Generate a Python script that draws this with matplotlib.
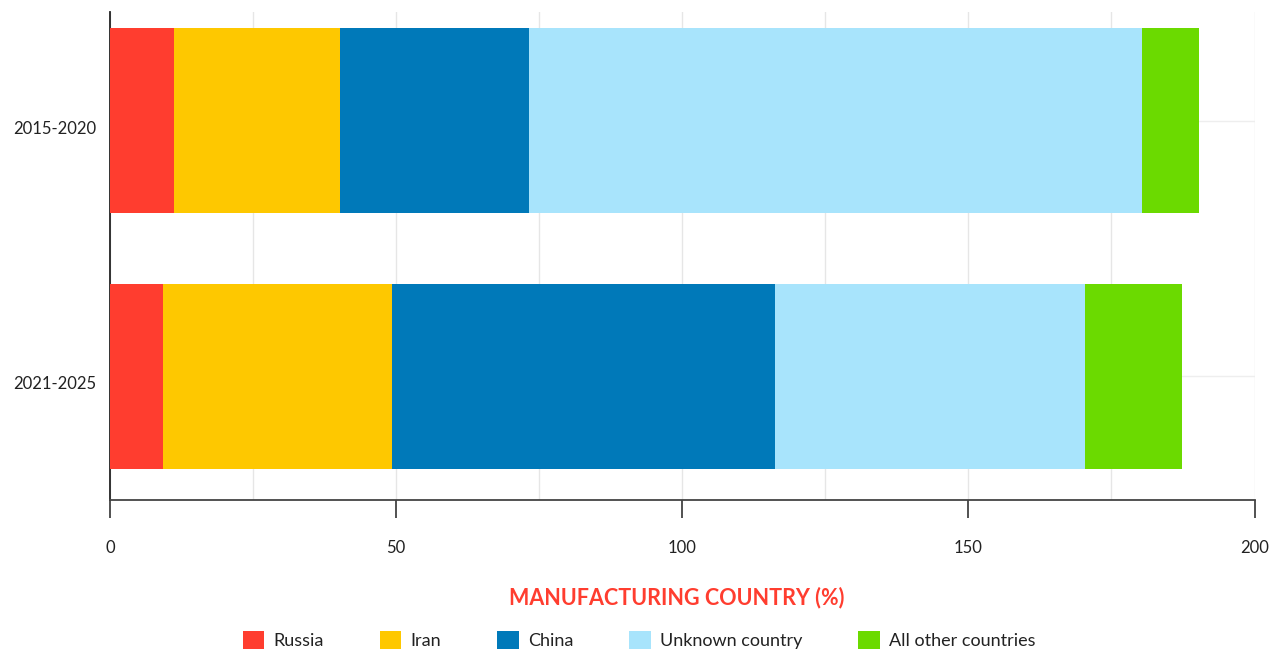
import matplotlib.pyplot as plt
import numpy as np
from matplotlib.patches import Patch

plt.rcParams['font.family'] = ['Lato', 'DejaVu Sans']

periods = ['2015-2020', '2021-2025']
countries = ['Russia', 'Iran', 'China', 'Unknown country', 'All other countries']
russia = [11.2, 9.3]
iran = [29.0, 40.0]
china = [33.0, 66.9]
unknown = [107.1, 54.2]
others = [10.0, 17.0]
colors = ['#ff3d2f', '#fec800', '#0079b9', '#a8e4fc', '#6bda00']

series = [russia, iran, china, unknown, others]

fig = plt.figure(figsize=(12.82, 6.54), dpi=100)
ax = fig.add_axes([110 / 1282, 1 - 500 / 654, (1254.5 - 110) / 1282, 488 / 654])

y = np.arange(len(periods))
left = np.zeros(len(periods))
for vals, col in zip(series, colors):
    ax.barh(y, vals, left=left, height=0.724, color=col, zorder=3)
    left += np.array(vals)

ax.set_xlim(0, 200)
ax.set_ylim(1.485, -0.425)
ax.set_yticks(y)
ax.set_yticklabels(periods, fontsize=12, color='#222222')
ax.tick_params(axis='y', length=0, pad=10)
for lbl in ax.get_yticklabels():
    lbl.set_va('top')

ax.set_xticks([0, 50, 100, 150, 200])
ax.set_xticks([25, 75, 125, 175], minor=True)
ax.tick_params(axis='x', which='major', length=13, width=1.2, color='#333333',
               pad=16, labelsize=12, labelcolor='#222222')
ax.tick_params(axis='x', which='minor', length=0)

ax.grid(True, axis='x', which='both', color='#e6e6e6', linewidth=1, zorder=0)
ax.grid(True, axis='y', color='#eeeeee', linewidth=1, zorder=0)
ax.set_axisbelow(True)

for s in ['top', 'right']:
    ax.spines[s].set_visible(False)
ax.spines['left'].set_color('#222222')
ax.spines['left'].set_linewidth(1.3)
ax.spines['bottom'].set_color('#444444')
ax.spines['bottom'].set_linewidth(1.3)

fig.text(677 / 1282, 1 - 598 / 654, 'MANUFACTURING COUNTRY (%)', ha='center', va='center',
         fontsize=15.5, fontweight='bold', color='#ff3d2f')

handles = [Patch(facecolor=c, edgecolor='none') for c in colors]
fig.legend(handles, countries, loc='center', bbox_to_anchor=(639 / 1282, 1 - 640 / 654),
           ncol=5, frameon=False, fontsize=13, handlelength=1.2, handleheight=1.2,
           handletextpad=0.5, columnspacing=3.1, labelcolor='#222222')

fig.savefig('out.png', dpi=100)
